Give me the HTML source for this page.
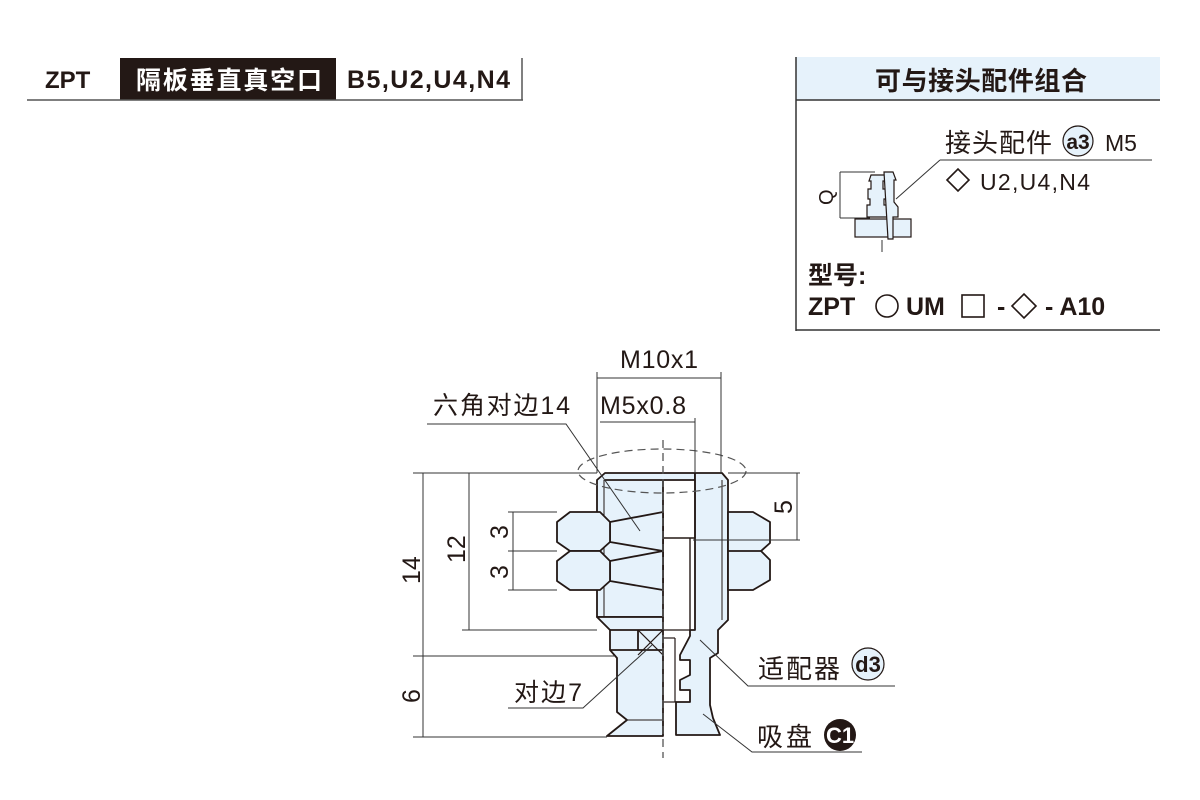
<!DOCTYPE html>
<html><head><meta charset="utf-8"><style>
html,body{margin:0;padding:0;background:#fff;width:1200px;height:800px;overflow:hidden}
svg{display:block}
text{font-family:"Liberation Sans","Noto Sans CJK SC",sans-serif;fill:#231815}
.b{font-weight:bold}
</style></head><body>
<svg width="1200" height="800" viewBox="0 0 1200 800" xmlns="http://www.w3.org/2000/svg">
<!-- header left -->
<rect x="120" y="58" width="216" height="42" fill="#231815"/>
<text x="45" y="88" class="b" font-size="24">ZPT</text>
<text x="229" y="89" class="b" font-size="25" text-anchor="middle" textLength="186" style="fill:#fff">隔板垂直真空口</text>
<text x="347" y="88" class="b" font-size="25" textLength="163">B5,U2,U4,N4</text>
<line x1="27" y1="100" x2="523" y2="100" stroke="#555" stroke-width="1.5"/>
<line x1="522" y1="58" x2="522" y2="100" stroke="#555" stroke-width="1.5"/>

<!-- top-right box -->
<rect x="796" y="57" width="364" height="43" fill="#e6f2fb"/>
<line x1="796" y1="57" x2="796" y2="331" stroke="#333" stroke-width="1.5"/>
<line x1="796" y1="100" x2="1160" y2="100" stroke="#333" stroke-width="1.5"/>
<line x1="796" y1="330" x2="1160" y2="330" stroke="#333" stroke-width="1.5"/>
<text x="981" y="90" class="b" font-size="26" text-anchor="middle" textLength="212">可与接头配件组合</text>
<text x="945" y="152" font-size="26" textLength="107">接头配件</text>
<circle cx="1078" cy="141" r="15" fill="#e6f2fb" stroke="#231815" stroke-width="1.2"/>
<text x="1078" y="149" class="b" font-size="21" text-anchor="middle">a3</text>
<text x="1105" y="151" font-size="23">M5</text>
<line x1="940" y1="160" x2="1152" y2="160" stroke="#333" stroke-width="1"/>
<line x1="940" y1="160" x2="896" y2="199" stroke="#333" stroke-width="1"/>
<path d="M947 180 L958 169 L969 180 L958 191 Z" fill="none" stroke="#231815" stroke-width="1.6"/>
<text x="980" y="190" font-size="23" textLength="110">U2,U4,N4</text>
<!-- small fitting -->
<line x1="840" y1="172" x2="840" y2="218" stroke="#333" stroke-width="1"/>
<line x1="840" y1="172" x2="875" y2="172" stroke="#333" stroke-width="1"/>
<line x1="840" y1="218" x2="870" y2="218" stroke="#333" stroke-width="1"/>
<text x="0" y="0" font-size="20" transform="translate(833,205) rotate(-90)">Q</text>
<rect x="855" y="219" width="56" height="18" fill="#e6f2fb" stroke="#231815" stroke-width="1.2"/>
<path d="M871 175 h14 v6 h-2 v8 h3 v10 h-2 v6 h3 v12 h-20 v-12 h3 v-6 h-2 v-10 h3 v-8 h-2 z" fill="#e6f2fb" stroke="#231815" stroke-width="1.2"/>
<path d="M884 172 h9 l3 8 h-2 v22 l4 5 v10 h-5 v22 h-5 z" fill="#e6f2fb" stroke="#231815" stroke-width="1.2"/>
<line x1="882" y1="240" x2="882" y2="252" stroke="#333" stroke-width="1"/>
<text x="808" y="284" class="b" font-size="25">型号:</text>
<text x="808" y="315" class="b" font-size="25">ZPT</text>
<circle cx="887" cy="306" r="11" fill="none" stroke="#231815" stroke-width="1.6"/>
<text x="906" y="315" class="b" font-size="25">UM</text>
<rect x="962" y="295" width="22" height="22" fill="none" stroke="#231815" stroke-width="1.6"/>
<text x="997" y="315" class="b" font-size="25">-</text>
<path d="M1012 306 L1024 294 L1036 306 L1024 318 Z" fill="none" stroke="#231815" stroke-width="1.6"/>
<text x="1045" y="315" class="b" font-size="25">- A10</text>

<!-- main drawing -->
<g stroke="#231815" stroke-width="1.8" stroke-linejoin="round">
<path d="M597 480 L605 473 L695 473 L695 480 L663 480 L663 617 L597 617 Z" fill="#e6f2fb"/>
<line x1="604" y1="480" x2="604" y2="617" stroke-width="1"/>
<line x1="605" y1="480" x2="663" y2="480"/>
<path d="M597 617 L610 630 L610 650 L617 658 L617 712 L627 720 L607 736 L663 736 L663 617 Z" fill="#e6f2fb"/>
<line x1="610" y1="630" x2="663" y2="630"/>
<line x1="610" y1="650" x2="663" y2="650"/>
<line x1="627" y1="720" x2="663" y2="720" stroke-width="1"/>
<line x1="638" y1="630" x2="638" y2="650"/>
<line x1="638" y1="630" x2="663" y2="655" stroke-width="1.2"/>
<line x1="663" y1="630" x2="638" y2="655" stroke-width="1.2"/>
<path d="M695 473 L722 473 L728 480 L728 620 L718 630 L718 653 L710 658 L710 705 L713 718 L720 735 L676 735 L676 702 L690 702 L690 690 L680 690 L680 680 L690 675 L690 660 L680 660 L680 655 L690 636 L690 630 L695 630 Z" fill="#e6f2fb"/>
<line x1="690" y1="538" x2="690" y2="630" stroke-width="1.4"/>
<line x1="663" y1="538" x2="695" y2="538" stroke-width="1.4"/>
<line x1="695" y1="480" x2="695" y2="538" stroke-width="1.4"/>
<line x1="722" y1="480" x2="722" y2="620" stroke-width="1"/>
<line x1="663" y1="630" x2="690" y2="630" stroke-width="1.2"/>
<line x1="663" y1="638" x2="675" y2="638" stroke-width="1.2"/>
<line x1="675" y1="638" x2="675" y2="702" stroke-width="1.2"/>
<line x1="663" y1="702" x2="676" y2="702" stroke-width="1.2"/>
<path d="M728 512 L753 512 L770 522 L770 543 L761 551 L770 560 L770 580 L753 590 L728 590 Z" fill="#e6f2fb"/>
<line x1="728" y1="551" x2="761" y2="551"/>
<path d="M663 512 L610 522 L610 542 L663 551 Z" fill="#e6f2fb"/>
<path d="M663 551 L610 561 L610 581 L663 590 Z" fill="#e6f2fb"/>
<path d="M557 522 L570 512 L600 512 L610 522 L610 542 L600 551 L570 551 L557 542 Z" fill="#e6f2fb"/>
<path d="M557 561 L570 551 L600 551 L610 561 L610 581 L600 590 L570 590 L557 581 Z" fill="#e6f2fb"/>
</g>
<line x1="663" y1="440" x2="663" y2="758" stroke="#555" stroke-width="1.3" stroke-dasharray="8,5"/>
<ellipse cx="662" cy="471" rx="84" ry="22" fill="none" stroke="#555" stroke-width="1.2" stroke-dasharray="8,5"/>

<g stroke="#333" stroke-width="1" fill="none">
<line x1="597" y1="372" x2="597" y2="473"/>
<line x1="721" y1="372" x2="721" y2="473"/>
<line x1="597" y1="378" x2="721" y2="378"/>
<line x1="695" y1="418" x2="695" y2="473"/>
<line x1="600" y1="422" x2="695" y2="422"/>
<line x1="413" y1="473" x2="597" y2="473"/>
<line x1="728" y1="473" x2="800" y2="473"/>
<line x1="693" y1="540" x2="800" y2="540"/>
<line x1="797" y1="473" x2="797" y2="540"/>
<line x1="423" y1="473" x2="423" y2="737"/>
<line x1="413" y1="656" x2="615" y2="656"/>
<line x1="413" y1="737" x2="607" y2="737"/>
<line x1="469" y1="473" x2="469" y2="630"/>
<line x1="462" y1="630" x2="597" y2="630"/>
<line x1="513" y1="512" x2="513" y2="590"/>
<line x1="508" y1="512" x2="557" y2="512"/>
<line x1="508" y1="551" x2="557" y2="551"/>
<line x1="508" y1="590" x2="557" y2="590"/>
<polyline points="427,424 566,424 640,531"/>
<polyline points="508,708 583,708 652,645"/>
<polyline points="700,640 748,686 895,686"/>
<polyline points="703,714 752,752 862,752"/>
</g>
<text x="659" y="368" font-size="25" text-anchor="middle" textLength="78">M10x1</text>
<text x="643" y="414" font-size="25" text-anchor="middle" textLength="86">M5x0.8</text>
<text x="433" y="414" font-size="25" textLength="137">六角对边14</text>
<text x="0" y="0" font-size="25" transform="translate(420,584) rotate(-90)">14</text>
<text x="0" y="0" font-size="25" transform="translate(420,703) rotate(-90)">6</text>
<text x="0" y="0" font-size="25" transform="translate(465,563) rotate(-90)">12</text>
<text x="0" y="0" font-size="25" transform="translate(508,539) rotate(-90)">3</text>
<text x="0" y="0" font-size="25" transform="translate(508,579) rotate(-90)">3</text>
<text x="0" y="0" font-size="25" transform="translate(792,514) rotate(-90)">5</text>
<text x="514" y="701" font-size="25" textLength="68">对边7</text>
<text x="758" y="678" font-size="26" textLength="82">适配器</text>
<circle cx="868" cy="664" r="16" fill="#e6f2fb" stroke="#231815" stroke-width="1.2"/>
<text x="868" y="672" class="b" font-size="22" text-anchor="middle">d3</text>
<text x="757" y="746" font-size="26" textLength="55">吸盘</text>
<circle cx="840" cy="735" r="16" fill="#231815"/>
<text x="840" y="743" class="b" font-size="22" text-anchor="middle" style="fill:#fff">C1</text>
</svg>
</body></html>
